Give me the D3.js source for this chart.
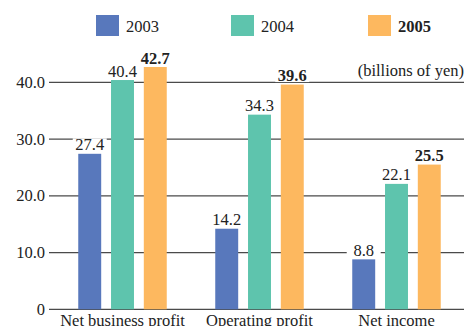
<!DOCTYPE html>
<html>
<head>
<meta charset="utf-8">
<script src="https://cdn.jsdelivr.net/npm/d3@7"></script>
<style>
  body { margin: 0; background: #fff; }
  svg { display: block; font-family: "Liberation Serif", "DejaVu Serif", serif; }
</style>
</head>
<body>
<div id="chart"></div>
<script>
// ==== Data ====
const categories = ["Net business profit", "Operating profit", "Net income"];
const years = ["2003", "2004", "2005"];
const values2003 = [27.4, 14.2, 8.8];
const values2004 = [40.4, 34.3, 22.1];
const values2005 = [42.7, 39.6, 25.5];
const yTicks = [0, 10, 20, 30, 40];
const colors = ["#5878bc", "#5ec4ad", "#fdb85f"];

const series = [values2003, values2004, values2005];
const data = categories.map((c, i) => ({
    category: c,
    values: years.map((y, j) => ({ year: y, value: series[j][i], idx: j }))
}));

const width = 464, height = 326;
const fontSize = "16.5px";
const svg = d3.select("#chart")
              .append("svg")
              .attr("width", width)
              .attr("height", height);

const y = d3.scaleLinear().domain([0, 40]).range([309.3, 82.3]);
const x0 = d3.scaleBand().domain(categories).range([54, 465]).paddingInner(0).paddingOuter(0);
const x1 = d3.scaleBand().domain(years).range([0, 88.5]).paddingInner(0.3);
const groupOffset = (x0.bandwidth() - 88.5) / 2;

// gridlines + tick labels
const grid = svg.append("g");
grid.selectAll("line")
    .data(yTicks)
    .enter()
    .append("line")
    .attr("x1", 49)
    .attr("x2", width)
    .attr("y1", d => y(d))
    .attr("y2", d => y(d))
    .attr("stroke", "#4a4a4a")
    .attr("stroke-width", 1.3);

grid.selectAll("text")
    .data(yTicks)
    .enter()
    .append("text")
    .attr("x", 45)
    .attr("y", d => y(d) + 5.5)
    .attr("text-anchor", "end")
    .style("font-size", fontSize)
    .attr("fill", "#222")
    .text(d => d === 0 ? "0" : d.toFixed(1));

// bars
const groups = svg.selectAll("g.group")
    .data(data)
    .enter()
    .append("g")
    .attr("class", "group")
    .attr("transform", d => `translate(${x0(d.category) + groupOffset},0)`);

groups.selectAll("rect")
    .data(d => d.values)
    .enter()
    .append("rect")
    .attr("x", d => x1(d.year))
    .attr("y", d => y(d.value))
    .attr("width", x1.bandwidth())
    .attr("height", d => y(0) - y(d.value))
    .attr("fill", d => colors[d.idx]);

// value labels with white backing
const labels = groups.selectAll("g.lbl")
    .data(d => d.values)
    .enter()
    .append("g")
    .attr("class", "lbl");

labels.append("rect")
    .attr("x", d => x1(d.year) + x1.bandwidth() / 2 - 17)
    .attr("y", d => y(d.value) - 15.5)
    .attr("width", 34)
    .attr("height", 13)
    .attr("fill", "#fff");

labels.append("text")
    .attr("x", d => x1(d.year) + x1.bandwidth() / 2)
    .attr("y", d => y(d.value) - 3.4)
    .attr("text-anchor", "middle")
    .style("font-size", fontSize)
    .style("font-weight", d => d.idx === 2 ? "bold" : "normal")
    .attr("fill", "#222")
    .text(d => d.value.toFixed(1));

// category labels
svg.selectAll("text.cat")
    .data(categories)
    .enter()
    .append("text")
    .attr("class", "cat")
    .attr("x", d => x0(d) + x0.bandwidth() / 2)
    .attr("y", 326)
    .attr("text-anchor", "middle")
    .style("font-size", fontSize)
    .attr("fill", "#222")
    .text(d => d);

// unit label
svg.append("text")
    .attr("x", 464)
    .attr("y", 75.5)
    .attr("text-anchor", "end")
    .style("font-size", fontSize)
    .attr("fill", "#222")
    .text("(billions of yen)");

// legend
const legendX = [96, 231, 368];
const legend = svg.selectAll("g.legend")
    .data(years)
    .enter()
    .append("g")
    .attr("class", "legend")
    .attr("transform", (d, i) => `translate(${legendX[i]},15)`);

legend.append("rect")
    .attr("width", 23)
    .attr("height", 21)
    .attr("fill", (d, i) => colors[i]);

legend.append("text")
    .attr("x", 30)
    .attr("y", 17.3)
    .style("font-size", fontSize)
    .style("font-weight", (d, i) => i === 2 ? "bold" : "normal")
    .attr("fill", "#222")
    .text(d => d);
</script>
</body>
</html>
